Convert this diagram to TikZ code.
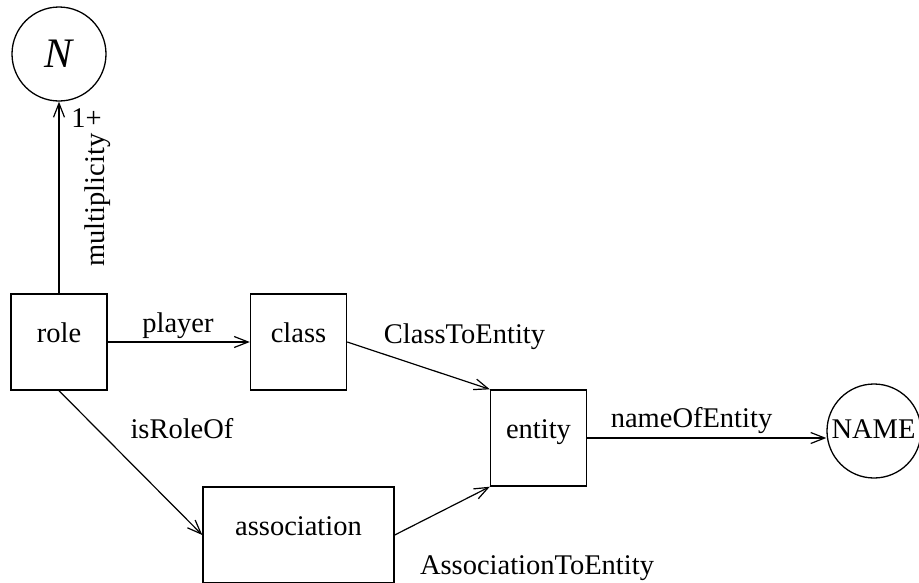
\documentclass[tikz,border=0pt]{standalone}
\usepackage{fontspec}
\setmainfont{Liberation Serif}
\usetikzlibrary{arrows.meta}
\begin{document}
\begin{tikzpicture}[x=1pt,y=-1pt,
  lbl/.style={font=\fontsize{28.5}{34}\selectfont, inner sep=0pt, anchor=base},
  box/.style={draw, line width=1.4pt, minimum width=96pt, minimum height=96pt, inner sep=0pt,
    text height=6pt, text depth=6pt, font=\fontsize{28.5}{34}\selectfont},
  circ/.style={draw, circle, line width=1.3pt, minimum size=94pt, inner sep=0pt},
  conn/.style={line width=1.2pt, -{Straight Barb[length=14pt,width=11pt,line width=1.2pt]}}]
\useasboundingbox (0,0) rectangle (919,582);
\node[box] (role) at (59,342) {role};
\node[box] (class) at (298.5,342) {class};
\node[box] (entity) at (538.5,438) {entity};
\node[box, minimum width=191pt] (association) at (298.5,535) {association};
\node[circ] (N) at (59,54) {};
\node[font=\fontsize{42}{48}\selectfont\itshape, inner sep=0pt, anchor=base] (Nt) at (59,67) {N};
\node[circ] (NAME) at (874,431) {};
\node[lbl] (NAMEt) at (873.5,438) {NAME};
\draw[conn] (role) -- (N);
\draw[conn] (role) -- (class);
\draw[conn] (class.east) -- (entity.north west);
\draw[conn] (role.south) -- (association.west);
\draw[conn] (association.east) -- (entity.south west);
\draw[conn] (entity.east) -- (entity.east -| NAME.west);
\node[lbl] (l1) at (86.5,127) {1+};
\node[font=\fontsize{28.5}{34}\selectfont, inner sep=0pt, rotate=90] (lmult) at (97.5,200) {multiplicity};
\node[lbl] (lplayer) at (178,332) {player};
\node[lbl] (lisrole) at (182,438) {isRoleOf};
\node[lbl] (lcte) at (464.5,343) {ClassToEntity};
\node[lbl] (lnoe) at (691.5,427) {nameOfEntity};
\node[lbl] (late) at (537,574) {AssociationToEntity};
\end{tikzpicture}
\end{document}
